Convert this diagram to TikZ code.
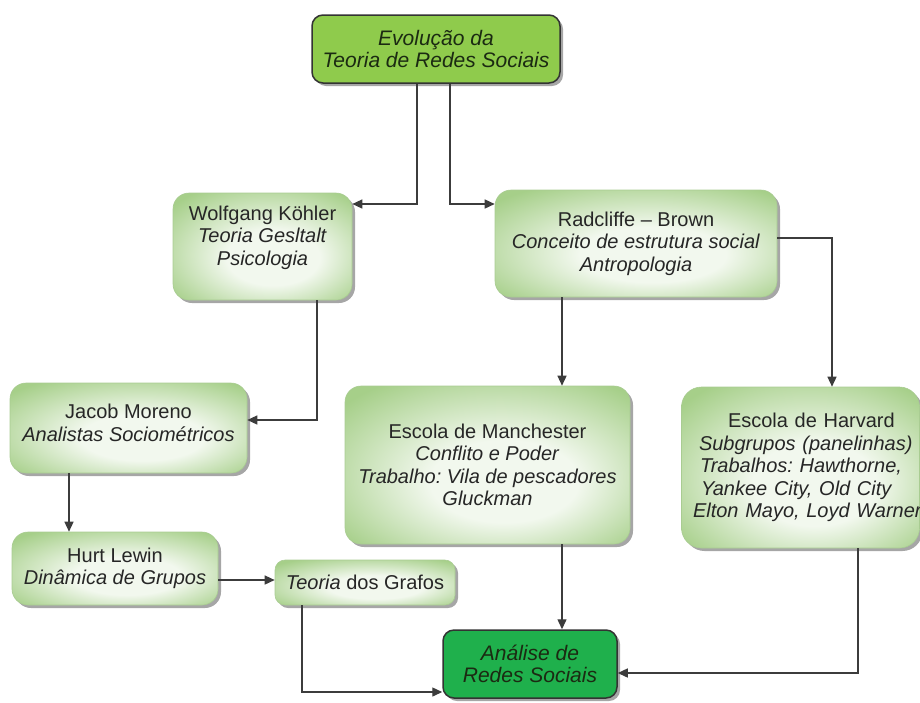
\documentclass[tikz,border=0pt]{standalone}
\usepackage{fontspec}
\setmainfont{Liberation Sans}
\usetikzlibrary{arrows.meta,shadows}

\definecolor{bxgreen}{HTML}{A6CF89}
\definecolor{bxlight}{HTML}{F2F8EE}
\definecolor{bxedge}{HTML}{A9CC92}
\definecolor{topgreen}{HTML}{8FCB4C}
\definecolor{endgreen}{HTML}{1FB04C}
\definecolor{linegray}{HTML}{3C3C3C}
\definecolor{txt}{HTML}{262626}
\definecolor{darktxt}{HTML}{1B2A12}

% soft green glow, lighter towards the lower middle of each box
\pgfdeclareradialshading{boxglow}{\pgfpoint{4bp}{-7bp}}{%
  color(0bp)=(bxlight); color(13bp)=(bxlight); color(34bp)=(bxgreen); color(50bp)=(bxgreen)}

\frenchspacing

\begin{document}
\begin{tikzpicture}[x=1pt,y=-1pt,
  every node/.style={font=\fontsize{20}{22.5}\selectfont, text=txt, inner sep=0pt},
  boxshadow/.style={drop shadow={shadow xshift=3pt,shadow yshift=-3pt,opacity=0.35,fill=black}},
  softbox/.style={rounded corners=16pt, shade, shading=boxglow, draw=bxedge, line width=0.6pt, boxshadow, align=center},
  keybox/.style={rounded corners=11pt, draw=black!80, line width=1.5pt, boxshadow, align=center,
    text=darktxt, font=\fontsize{21}{22}\selectfont\itshape},
  conn/.style={draw=linegray, line width=1.4pt, -{Triangle[length=10pt,width=9pt]}}]

\useasboundingbox (0,0) rectangle (920,702);

% boxes
\node[keybox, fill=topgreen, minimum width=248pt, minimum height=68pt] (top) at (436,49)
  {Evolução da\\Teoria de Redes Sociais};

\node[softbox, minimum width=179pt, minimum height=107pt] (kohler) at (262.5,246.5)
  {Wolfgang Köhler\\\textit{Teoria Gesltalt}\\\textit{Psicologia}\\\mbox{}};

\node[softbox, minimum width=282pt, minimum height=107pt] (radcliffe) at (636,243.5)
  {Radcliffe – Brown\\\textit{Conceito de estrutura social}\\\textit{Antropologia}};

\node[softbox, minimum width=237pt, minimum height=90pt] (jacob) at (128.5,428)
  {Jacob Moreno\\\textit{Analistas Sociométricos}\\[-12pt]\mbox{}};

\node[softbox, minimum width=206pt, minimum height=73pt] (hurt) at (115,568.5)
  {Hurt Lewin\\\textit{Dinâmica de Grupos}};

\node[softbox, rounded corners=10pt, minimum width=180pt, minimum height=45pt] (grafos) at (365,582.5)
  {\textit{Teoria} dos Grafos};

\node[softbox, minimum width=285pt, minimum height=158pt] (manch) at (487.5,465)
  {Escola de Manchester\\\textit{Conflito e Poder}\\\textit{Trabalho: Vila de pescadores}\\\textit{Gluckman}};

\node[softbox, rounded corners=20pt, minimum width=235pt, minimum height=161pt,
      text width=238pt, align=left] (harvard) at (800.5,467.5)
  {\hspace*{46.5pt}\mbox{Escola de Harvard}\\
   \hspace*{17.5pt}\mbox{\itshape Subgrupos (panelinhas)}\\
   \hspace*{18.5pt}\mbox{\itshape Trabalhos: Hawthorne,}\\
   \hspace*{19.5pt}\mbox{\itshape Yankee City, Old City}\\
   \hspace*{11.5pt}\mbox{\itshape Elton Mayo, Loyd Warner}};

\node[keybox, fill=endgreen, minimum width=174pt, minimum height=68pt] (analise) at (530,664)
  {Análise de\\Redes Sociais};

% connectors
\draw[conn] (top.south -| 417,0) |- (kohler.east |- 0,204);
\draw[conn] (top.south -| 450,0) |- (radcliffe.west |- 0,204);
\draw[conn] (radcliffe.east |- 0,238) -| (harvard.north -| 832,0);
\draw[conn] (radcliffe.south -| 562,0) -- (manch.north -| 562,0);
\draw[conn] (kohler.south -| 317,0) |- (jacob.east |- 0,420);
\draw[conn] (jacob.south -| 69,0) -- (hurt.north -| 69,0);
\draw[conn] (hurt.east |- 0,580) -- (grafos.west |- 0,580);
\draw[conn] (grafos.south -| 302,0) |- (analise.west |- 0,692);
\draw[conn] (manch.south -| 562,0) -- (analise.north -| 562,0);
\draw[conn] (harvard.south -| 858,0) |- (analise.east |- 0,673);

\end{tikzpicture}
\end{document}
